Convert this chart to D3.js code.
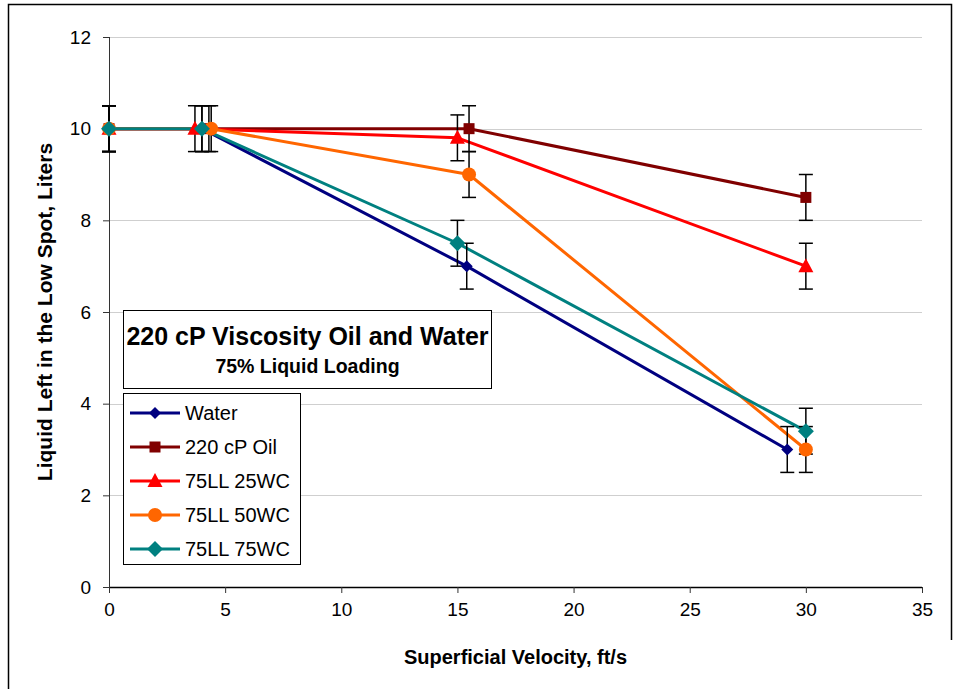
<!DOCTYPE html>
<html>
<head>
<meta charset="utf-8">
<script src="https://cdn.jsdelivr.net/npm/d3@7"></script>
<style>
  html, body { margin: 0; padding: 0; background: #fff; }
  svg { display: block; font-family: "Liberation Sans", Arial, sans-serif; }
</style>
</head>
<body>
<svg id="chart" width="961" height="689"></svg>
<script>
// ---- data ----
const seriesNames = ["Water", "220 cP Oil", "75LL 25WC", "75LL 50WC", "75LL 75WC"];
const waterX = [0, 4.0, 15.4, 29.2];
const waterY = [10, 10, 7, 3];
const oilX = [0, 4.3, 15.5, 30];
const oilY = [10, 10, 10, 8.5];
const ll25X = [0, 3.7, 15.0, 30];
const ll25Y = [10, 10, 9.8, 7];
const ll50X = [0, 4.4, 15.5, 30];
const ll50Y = [10, 10, 9, 3];
const ll75X = [0, 4.0, 15.0, 30];
const ll75Y = [10, 10, 7.5, 3.4];
const errorAmount = 0.5;
const xTicks = [0, 5, 10, 15, 20, 25, 30, 35];
const yTicks = [0, 2, 4, 6, 8, 10, 12];
const titleText = "220 cP Viscosity Oil and Water";
const subtitleText = "75% Liquid Loading";
const xTitle = "Superficial Velocity, ft/s";
const yTitle = "Liquid Left in the Low Spot, Liters";

const colors = ["#000080", "#800000", "#FF0000", "#FF6600", "#008080"];
const shapes = ["diamondSmall", "square", "triangle", "circle", "diamond"];
const xs = [waterX, oilX, ll25X, ll50X, ll75X];
const ys = [waterY, oilY, ll25Y, ll50Y, ll75Y];
const series = seriesNames.map((name, i) => ({
  name, color: colors[i], shape: shapes[i],
  points: xs[i].map((x, j) => ({x, y: ys[i][j]}))
}));

// ---- layout ----
const svg = d3.select("#chart");
const pLeft = 109, pRight = 922, pTop = 37, pBottom = 587;
const x = d3.scaleLinear().domain([0, 35]).range([pLeft, pRight]);
const y = d3.scaleLinear().domain([0, 12]).range([pBottom, pTop]);

// outer frame
svg.append("path")
  .attr("d", `M8.5,689 L8.5,4.5 L951.5,4.5 L951.5,640`)
  .attr("fill", "none").attr("stroke", "#000").attr("stroke-width", 1.5);

// gridlines
svg.append("g").selectAll("line").data(yTicks.filter(d => d > 0)).join("line")
  .attr("x1", pLeft).attr("x2", pRight)
  .attr("y1", d => Math.round(y(d)) + 0.5).attr("y2", d => Math.round(y(d)) + 0.5)
  .attr("stroke", "#cfcfcf").attr("stroke-width", 1.2);

// axes
const xAxis = d3.axisBottom(x).tickValues(xTicks).tickSize(6).tickPadding(10).tickFormat(d3.format("d"));
const gx = svg.append("g").attr("transform", `translate(0,${pBottom})`).call(xAxis);
gx.select(".domain").attr("stroke", "#000").attr("stroke-width", 1.3).attr("d", `M${pLeft},0.5H${pRight}`);
gx.selectAll(".tick line").attr("stroke", "#333");
gx.selectAll("text").attr("font-size", 19).attr("fill", "#000")
  .attr("font-family", "Liberation Sans, Arial, sans-serif");

const yAxis = d3.axisLeft(y).tickValues(yTicks).tickSize(6).tickPadding(12).tickFormat(d3.format("d"));
const gy = svg.append("g").attr("transform", `translate(${pLeft},0)`).call(yAxis);
gy.select(".domain").attr("stroke", "#333").attr("stroke-width", 1).attr("d", `M0.5,${pTop}V${pBottom}`);
gy.selectAll(".tick line").attr("stroke", "#333");
gy.selectAll("text").attr("font-size", 19).attr("fill", "#000")
  .attr("font-family", "Liberation Sans, Arial, sans-serif");

// axis titles
svg.append("text").attr("x", (pLeft + pRight) / 2).attr("y", 664)
  .attr("text-anchor", "middle").attr("font-weight", "bold").attr("font-size", 20)
  .text(xTitle);
svg.append("text").attr("transform", `translate(52,${(pTop + pBottom) / 2}) rotate(-90)`)
  .attr("text-anchor", "middle").attr("font-weight", "bold").attr("font-size", 21)
  .text(yTitle);

// lines
const line = d3.line().x(d => x(d.x)).y(d => y(d.y));
svg.append("g").selectAll("path").data(series).join("path")
  .attr("d", d => line(d.points))
  .attr("fill", "none").attr("stroke", d => d.color).attr("stroke-width", 3)
  .attr("stroke-linejoin", "round");

// error bars
const gErr = svg.append("g").attr("stroke", "#000").attr("stroke-width", 1.5);
series.forEach(s => {
  s.points.forEach(p => {
    const cx = x(p.x), y1 = y(p.y + errorAmount), y2 = y(p.y - errorAmount);
    gErr.append("line").attr("x1", cx).attr("x2", cx).attr("y1", y1).attr("y2", y2);
    gErr.append("line").attr("x1", cx - 7).attr("x2", cx + 7).attr("y1", y1).attr("y2", y1);
    gErr.append("line").attr("x1", cx - 7).attr("x2", cx + 7).attr("y1", y2).attr("y2", y2);
  });
});

// markers
function marker(g, shape, color, cx, cy) {
  if (shape === "circle") {
    g.append("circle").attr("cx", cx).attr("cy", cy).attr("r", 7).attr("fill", color);
  } else if (shape === "square") {
    g.append("rect").attr("x", cx - 5.5).attr("y", cy - 5.5).attr("width", 11).attr("height", 11).attr("fill", color);
  } else if (shape === "triangle") {
    g.append("path").attr("d", `M${cx},${cy - 8} L${cx + 7.5},${cy + 6} L${cx - 7.5},${cy + 6} Z`).attr("fill", color);
  } else if (shape === "diamond") {
    g.append("path").attr("d", `M${cx},${cy - 8} L${cx + 8},${cy} L${cx},${cy + 8} L${cx - 8},${cy} Z`).attr("fill", color);
  } else if (shape === "diamondSmall") {
    g.append("path").attr("d", `M${cx},${cy - 6} L${cx + 6},${cy} L${cx},${cy + 6} L${cx - 6},${cy} Z`).attr("fill", color);
  }
}
const gm = svg.append("g");
series.forEach(s => s.points.forEach(p => marker(gm, s.shape, s.color, x(p.x), y(p.y))));

// title box
const tb = svg.append("g");
tb.append("rect").attr("x", 123.5).attr("y", 310.5).attr("width", 368).attr("height", 78)
  .attr("fill", "#fff").attr("stroke", "#000").attr("stroke-width", 1);
tb.append("text").attr("x", 307.5).attr("y", 345).attr("text-anchor", "middle")
  .attr("font-weight", "bold").attr("font-size", 25).text(titleText);
tb.append("text").attr("x", 307.5).attr("y", 373).attr("text-anchor", "middle")
  .attr("font-weight", "bold").attr("font-size", 19.5).text(subtitleText);

// legend
const lg = svg.append("g");
lg.append("rect").attr("x", 123.5).attr("y", 393.5).attr("width", 177).attr("height", 171)
  .attr("fill", "#fff").attr("stroke", "#000").attr("stroke-width", 1);
series.forEach((s, i) => {
  const cy = 413 + i * 34;
  lg.append("line").attr("x1", 130).attr("x2", 180).attr("y1", cy).attr("y2", cy)
    .attr("stroke", s.color).attr("stroke-width", 3);
  marker(lg, s.shape, s.color, 155, cy);
  lg.append("text").attr("x", 185).attr("y", cy + 7).attr("font-size", 20).text(s.name);
});
</script>
</body>
</html>
